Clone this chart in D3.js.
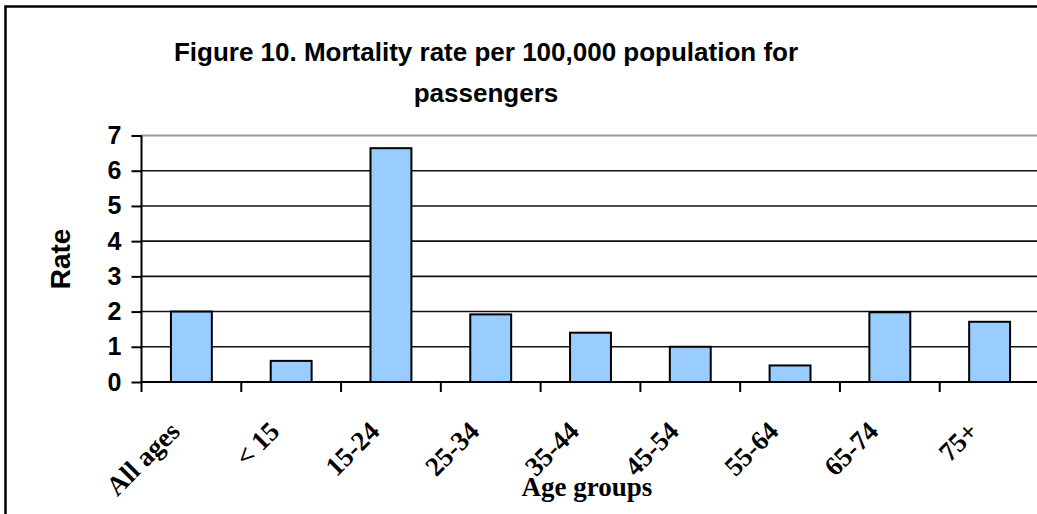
<!DOCTYPE html>
<html>
<head>
<meta charset="utf-8">
<script src="https://cdn.jsdelivr.net/npm/d3@7"></script>
<style>
  body { margin: 0; background: #fff; }
  svg { display: block; }
</style>
</head>
<body>
<div id="chart"></div>
<script>
// Data
let ageGroups = ["All ages", "< 15", "15-24", "25-34", "35-44", "45-54", "55-64", "65-74", "75+"];
let rates = [2.0, 0.6, 6.64, 1.92, 1.4, 1.0, 0.47, 1.98, 1.71];
let yTicks = [0, 1, 2, 3, 4, 5, 6, 7];

let svgWidth = 1037;
let svgHeight = 514;

// Plot area (the right edge runs past the picture)
let plot = { left: 141.5, right: 1039.5, top: 135.5, bottom: 382 };

let svg = d3.select("#chart")
    .append("svg")
    .attr("width", svgWidth)
    .attr("height", svgHeight);

// outer frame
svg.append("rect")
    .attr("x", 5.5)
    .attr("y", 6.5)
    .attr("width", 1100)
    .attr("height", 600)
    .attr("fill", "#fff")
    .attr("stroke", "#000")
    .attr("stroke-width", 2.5);

// Scales
let xCat = d3.scaleBand()
    .domain(ageGroups)
    .range([plot.left, plot.right])
    .padding(0);

let xBar = d3.scaleBand()
    .domain(ageGroups)
    .range([plot.left, plot.right])
    .paddingInner(0.59)
    .paddingOuter(0.295);

let yScale = d3.scaleLinear()
    .domain([0, 7])
    .range([plot.bottom, plot.top]);

// Gridlines
svg.append("g")
    .selectAll("line")
    .data(yTicks.filter(d => d > 0))
    .enter()
    .append("line")
    .attr("x1", plot.left)
    .attr("x2", plot.right)
    .attr("y1", d => yScale(d))
    .attr("y2", d => yScale(d))
    .attr("stroke", d => d === 7 ? "#999" : "#111")
    .attr("stroke-width", d => d === 7 ? 2.2 : 1.6);

// Bars
svg.append("g")
    .selectAll("rect")
    .data(rates)
    .enter()
    .append("rect")
    .attr("x", (d, i) => xBar(ageGroups[i]))
    .attr("width", xBar.bandwidth())
    .attr("y", d => yScale(d))
    .attr("height", d => yScale(0) - yScale(d))
    .attr("fill", "#99ccff")
    .attr("stroke", "#000")
    .attr("stroke-width", 2);

// Y axis
let leftAxis = d3.axisLeft(yScale)
    .tickValues(yTicks)
    .tickSize(10)
    .tickPadding(10)
    .tickFormat(d3.format("d"));

let yAxis = svg.append("g")
    .attr("transform", `translate(${plot.left}, 0)`)
    .call(leftAxis);

yAxis.select(".domain")
    .attr("d", `M0,${plot.top}V${plot.bottom + 10}`)
    .attr("stroke", "#000")
    .attr("stroke-width", 2);
yAxis.selectAll(".tick line").attr("stroke", "#000").attr("stroke-width", 2);
yAxis.selectAll(".tick text")
    .attr("font-family", "Liberation Sans, Arial, sans-serif")
    .attr("font-weight", "bold")
    .attr("font-size", "25px")
    .attr("fill", "#000");

// X axis: ticks sit on the category boundaries
let bounds = ageGroups.map(g => xCat(g)).slice(1).concat([plot.right]);
let xAxisG = svg.append("g");
xAxisG.append("line")
    .attr("x1", plot.left)
    .attr("x2", plot.right)
    .attr("y1", plot.bottom)
    .attr("y2", plot.bottom)
    .attr("stroke", "#000")
    .attr("stroke-width", 2);
xAxisG.selectAll("line.tk")
    .data(bounds)
    .enter()
    .append("line")
    .attr("class", "tk")
    .attr("x1", d => d)
    .attr("x2", d => d)
    .attr("y1", plot.bottom)
    .attr("y2", plot.bottom + 10)
    .attr("stroke", "#000")
    .attr("stroke-width", 2);

// Rotated category labels
xAxisG.selectAll("text")
    .data(ageGroups)
    .enter()
    .append("text")
    .attr("transform", d => `translate(${xCat(d) + xCat.bandwidth() / 2 - 10}, 433) rotate(-45)`)
    .attr("text-anchor", "end")
    .attr("font-family", "Liberation Serif, Times New Roman, serif")
    .attr("font-weight", "bold")
    .attr("font-size", "27px")
    .attr("fill", "#000")
    .text(d => d);

// Axis titles
svg.append("text")
    .attr("x", 587)
    .attr("y", 496)
    .attr("text-anchor", "middle")
    .attr("font-family", "Liberation Serif, Times New Roman, serif")
    .attr("font-weight", "bold")
    .attr("font-size", "27px")
    .text("Age groups");

svg.append("text")
    .attr("transform", "translate(70, 259) rotate(-90)")
    .attr("text-anchor", "middle")
    .attr("font-family", "Liberation Sans, Arial, sans-serif")
    .attr("font-weight", "bold")
    .attr("font-size", "28px")
    .text("Rate");

// Chart title
let title = svg.append("text")
    .attr("text-anchor", "middle")
    .attr("font-family", "Liberation Sans, Arial, sans-serif")
    .attr("font-weight", "bold")
    .attr("font-size", "26px");
title.append("tspan").attr("x", 486).attr("y", 61)
    .text("Figure 10. Mortality rate per 100,000 population for");
title.append("tspan").attr("x", 486).attr("y", 102)
    .text("passengers");
</script>
</body>
</html>
